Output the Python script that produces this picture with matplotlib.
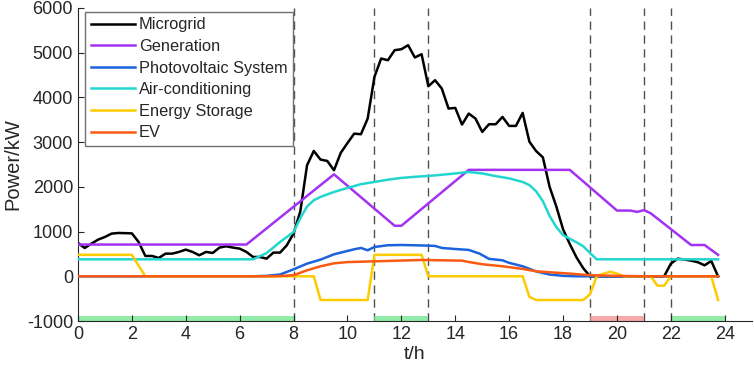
import numpy as np
import matplotlib
matplotlib.use("Agg")
import matplotlib.pyplot as plt

plt.rcParams.update({"font.family": ["Liberation Sans", "DejaVu Sans"],
                     "axes.unicode_minus": False,
                     "text.color": "#262626", "axes.labelcolor": "#262626",
                     "xtick.color": "#262626", "ytick.color": "#262626"})

# microgrid net power, 15-min steps from 0:00 to 23:45
MG_T = np.arange(96) * 0.25
MG_P = [745, 633, 731, 821, 880, 955, 969, 965, 960, 768, 455, 455, 410, 507,
        507, 545, 597, 545, 470, 545, 522, 642, 671, 642, 619, 545, 432, 432,
        395, 530, 530, 694, 960,
        1450, 2483, 2803, 2610, 2580, 2371, 2760, 2980, 3190, 3177, 3528, 4459,
        4870, 4832, 5056, 5078, 5168, 4893, 4966,
        4250, 4385, 4199, 3751, 3766, 3393, 3639, 3527, 3228, 3400, 3400, 3564,
        3363, 3363, 3654, 3010, 2800, 2660, 2000, 1560, 1050, 720, 420, 180, 0,
        0, 0, 0, 0, 0, 0, 0, 0, 0, 0, 0,
        284, 395, 375, 350, 315, 246, 342, 0]

GEN_T = [0, 6.25, 9.5, 11.75, 12.0, 14.5, 18.25, 20.0, 20.5, 20.75, 21.0,
         21.25, 22.75, 23.25, 23.75]
GEN_P = [710, 710, 2280, 1130, 1130, 2380, 2380, 1470, 1470, 1440, 1480,
         1410, 700, 700, 480]

PV_T = [0, 6.5, 7.0, 7.5, 8.0, 8.5, 9.0, 9.5, 9.85, 10.25, 10.5, 10.75, 11.0,
        11.5, 12.0, 12.75, 13.25, 13.5, 14.0, 14.5, 14.9, 15.25, 15.75, 16.0,
        16.5, 17.0, 17.5, 18.0, 18.5, 23.75]
PV_P = [0, 0, 10, 40, 156, 283, 373, 492, 545, 604, 634, 582, 656, 694, 700,
        690, 679, 634, 610, 590, 507, 390, 358, 300, 224, 110, 40, 10, 0, 0]

AC_T = [0, 6.5, 7.0, 7.5, 8.0, 8.25, 8.5, 8.75, 9.0, 9.5, 10.0, 10.5, 11.0,
        11.5, 12.0, 12.5, 13.0, 13.5, 14.0, 14.5, 15.0, 15.5, 16.0, 16.5,
        16.75, 17.0, 17.25, 17.5, 17.75, 18.0, 18.5, 18.75, 19.0, 19.25, 23.75]
AC_P = [380, 380, 520, 768, 991, 1300, 1560, 1700, 1775, 1886, 1976, 2060,
        2110, 2160, 2200, 2225, 2245, 2270, 2300, 2333, 2300, 2240, 2190, 2110,
        2040, 1900, 1680, 1350, 1100, 920, 760, 671, 520, 380, 380]

ES_T = [0, 2.0, 2.5, 8.75, 9.0, 10.75, 11.0, 12.75, 13.0, 16.5, 16.75, 17.0,
        18.75, 19.0, 19.25, 19.5, 19.75, 20.0, 20.25, 21.25, 21.5, 21.75, 22.0,
        23.5, 23.75]
ES_P = [480, 480, 0, 0, -530, -530, 480, 480, 0, 0, -460, -530, -530, -400,
        0, 60, 100, 60, 0, 0, -210, -210, 0, 0, -530]

EV_T = [0, 7.0, 7.5, 8.0, 8.5, 9.0, 9.5, 10.0, 11.0, 12.0, 12.75, 13.5, 14.25,
        14.5, 15.0, 15.75, 16.5, 17.0, 17.75, 18.25, 19.0, 20.0, 21.0, 23.75]
EV_P = [0, 0, 5, 25, 134, 224, 290, 318, 335, 352, 365, 358, 350, 320, 270,
        224, 165, 112, 80, 60, 25, 10, 0, 0]

SERIES = [("Microgrid", MG_T, MG_P, "black"),
          ("Generation", GEN_T, GEN_P, "#a332f2"),
          ("Photovoltaic System", PV_T, PV_P, "#1c62de"),
          ("Air-conditioning", AC_T, AC_P, "#22d6cf"),
          ("Energy Storage", ES_T, ES_P, "#fccc00"),
          ("EV", EV_T, EV_P, "#fb5a12")]

BOUNDS = [8, 11, 13, 19, 21, 22]
GREEN_SPANS = [(0, 8), (11, 13), (22, 24)]
RED_SPANS = [(19, 21)]

fig = plt.figure(figsize=(7.54, 3.77), dpi=100)
ax = fig.add_axes([0.1034, 0.1485, 0.8936, 0.8303])

for x in BOUNDS:
    ax.plot([x, x], [-1000, 6000], color="#505050", lw=1.0, ls=(0, (6, 4)),
            zorder=1)
for a, b in GREEN_SPANS:
    ax.fill_between([a, b], -1000, -890, color="#6ee68c", alpha=0.75, lw=0,
                    zorder=1)
for a, b in RED_SPANS:
    ax.fill_between([a, b], -1000, -890, color="#f48e8e", alpha=0.75, lw=0,
                    zorder=1)

for name, t, p, c in SERIES:
    ax.plot(t, p, color=c, lw=1.8, label=name, zorder=3)

ax.set_xlim(0, 25)
ax.set_ylim(-1000, 6000)
ax.set_xticks(range(0, 25, 2))
ax.set_yticks(range(-1000, 6001, 1000))
ax.tick_params(direction="in", length=4, width=0.8, labelsize=13)
for s in ("top", "right"):
    ax.spines[s].set_visible(False)
for s in ("left", "bottom"):
    ax.spines[s].set_color("#262626")
    ax.spines[s].set_linewidth(0.8)
ax.set_xlabel("t/h", fontsize=14, labelpad=2)
ax.set_ylabel("Power/kW", fontsize=14.5, labelpad=3)

leg = ax.legend(loc="upper left", bbox_to_anchor=(0.0104, 0.988),
                borderaxespad=0, fontsize=11.8, handlelength=2.7,
                handletextpad=0.25, labelspacing=0.4, fancybox=False,
                edgecolor="#707070", framealpha=1, borderpad=0.35)
leg.get_frame().set_linewidth(1.0)

fig.savefig("out.png", dpi=100)
